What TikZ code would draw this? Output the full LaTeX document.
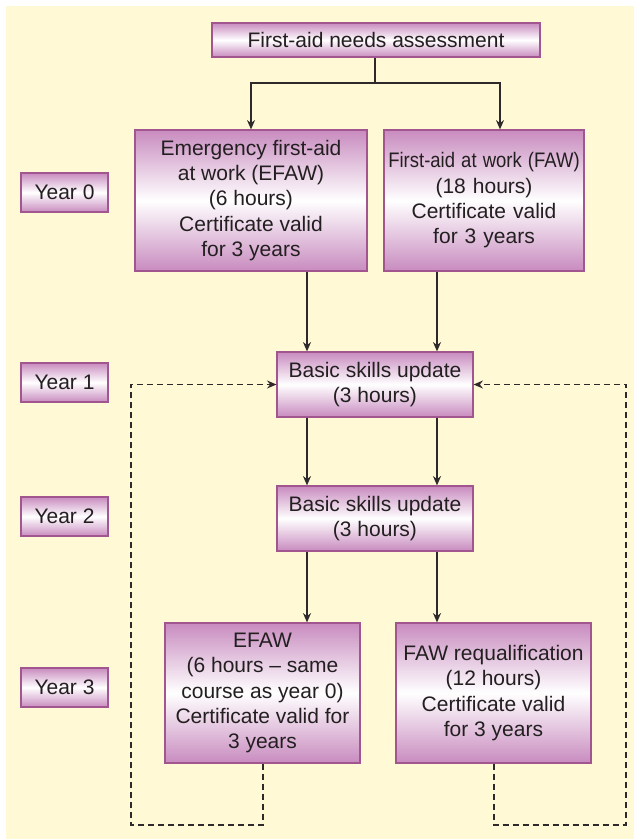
\documentclass[tikz,border=0pt]{standalone}
\usepackage{fontspec}
\usepackage{graphicx}
\setmainfont{Liberation Sans}
\usetikzlibrary{arrows.meta}
\definecolor{bgy}{HTML}{FFF9D6}
\definecolor{pur}{HTML}{C88BBF}
\definecolor{purdk}{HTML}{A2568F}
\definecolor{txt}{HTML}{231F20}
\definecolor{linec}{HTML}{2E2A2B}
\begin{document}
\begin{tikzpicture}[x=0.75pt,y=-0.75pt,
  box/.style={draw=purdk, line width=0.9pt, top color=pur, bottom color=pur, middle color=white,
    text=txt, align=center, inner sep=0pt, font=\fontsize{15.75}{19}\selectfont},
  arr/.style={draw=linec, line width=1.1pt, -{Stealth[length=7pt,width=6pt]}},
  plainline/.style={draw=linec, line width=1.1pt},
  dasharr/.style={draw=linec, line width=1pt, dash pattern=on 4.5pt off 3pt, -{Stealth[length=7pt,width=6pt]}},
]
\useasboundingbox (0,0) rectangle (634,839);
\fill[bgy] (6,6) rectangle (634,839);

% boxes
\node[box, minimum width=328*0.75pt, minimum height=34*0.75pt] (top) at (376,40) {First-aid needs assessment};
\node[box, minimum width=232*0.75pt, minimum height=141*0.75pt] (efaw) at (251,200.5)
  {Emergency first-aid\\at work (EFAW)\\(6 hours)\\Certificate valid\\for 3 years};
\node[box, minimum width=200*0.75pt, minimum height=141*0.75pt, text width=196*0.75pt] (faw) at (484,200.5)
  {\scalebox{0.88}[1]{First-aid at work (FAW)}\\(18 hours)\\Certificate valid\\for 3 years};
\node[box, minimum width=196*0.75pt, minimum height=65*0.75pt] (b1) at (375,384.5)
  {Basic skills update\\(3 hours)};
\node[box, minimum width=196*0.75pt, minimum height=65*0.75pt] (b2) at (375,518.5)
  {Basic skills update\\(3 hours)};
\node[box, minimum width=195*0.75pt, minimum height=140*0.75pt] (efaw3) at (262.5,693)
  {EFAW\\(6 hours -- same\\course as year 0)\\Certificate valid for\\3 years};
\node[box, minimum width=195*0.75pt, minimum height=140*0.75pt] (faw3) at (493.5,693)
  {FAW requalification\\(12 hours)\\Certificate valid\\for 3 years};

% year labels
\node[box, minimum width=87*0.75pt, minimum height=39*0.75pt] (y0) at (64.5,192.5) {Year 0};
\node[box, minimum width=87*0.75pt, minimum height=39*0.75pt] (y1) at (64.5,382.5) {Year 1};
\node[box, minimum width=87*0.75pt, minimum height=39*0.75pt] (y2) at (64.5,516.5) {Year 2};
\node[box, minimum width=87*0.75pt, minimum height=39*0.75pt] (y3) at (64.5,687.5) {Year 3};

% helper coordinates
\coordinate (j) at (375,83);
\coordinate (cTR) at (500,0);
\coordinate (cL) at (307,0);
\coordinate (cR) at (437,0);
\coordinate (dLx) at (263,0);
\coordinate (dRx) at (494,0);
\coordinate (dL) at (131,825);
\coordinate (dR) at (626,825);

% connectors
\draw[plainline] (top.south -| j) -- (j);
\draw[arr] (j) -| (efaw.north);
\draw[arr] (j) -| (faw.north -| cTR);
\draw[arr] (efaw.south -| cL) -- (b1.north -| cL);
\draw[arr] (faw.south -| cR) -- (b1.north -| cR);
\draw[arr] (b1.south -| cL) -- (b2.north -| cL);
\draw[arr] (b1.south -| cR) -- (b2.north -| cR);
\draw[arr] (b2.south -| cL) -- (efaw3.north -| cL);
\draw[arr] (b2.south -| cR) -- (faw3.north -| cR);
\draw[dasharr] (efaw3.south -| dLx) |- (dL) |- (b1.west);
\draw[dasharr] (faw3.south -| dRx) |- (dR) |- (b1.east);
\end{tikzpicture}
\end{document}
